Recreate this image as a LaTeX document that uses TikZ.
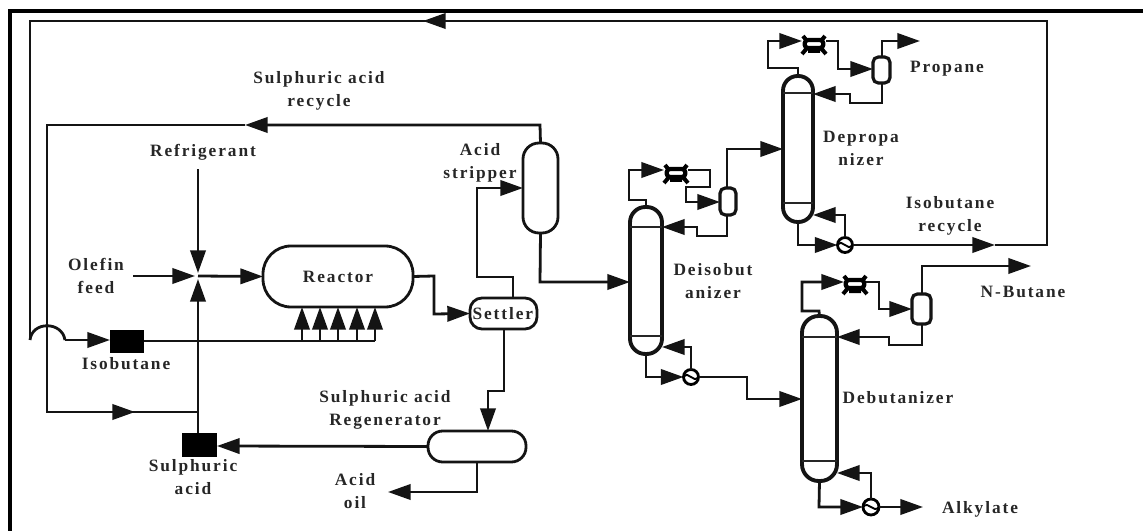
\documentclass[tikz,border=0pt]{standalone}
\usepackage{fontspec}
\setmainfont[LetterSpace=11]{Liberation Serif}
\usetikzlibrary{arrows.meta}
\tikzset{
  x=0.75pt,y=-0.75pt,
  line/.style={line width=2.1pt,black!92,line join=miter},
  arr/.style={line,-{Triangle[length=17pt,width=11.5pt]}},
  frameline/.style={line width=2.9pt,black},
  vessel/.style={draw,line width=2.1pt,black!92,fill=white,shape=rectangle,inner sep=0pt,outer sep=0pt,text=black!85,font=\bfseries\fontsize{13}{17.25}\selectfont},
  column/.style={vessel,line width=2.9pt},
  tray/.style={line width=1.6pt,black!85},
  blockbox/.style={fill=black,draw=none,shape=rectangle,inner sep=0pt,outer sep=0pt},
  lab/.style={inner sep=0pt,align=center,text=black!85,font=\bfseries\fontsize{13}{17.25}\selectfont},
  pumpbody/.style={draw,line width=3.2pt,black,fill=white,rounded corners=2.5pt,shape=rectangle,inner sep=0pt,outer sep=0pt,minimum width=14pt,minimum height=6pt},
  pumpleg/.style={line width=3pt,black},
  exch/.style={draw,line width=2.1pt,black,fill=white,shape=circle,inner sep=0pt,outer sep=0pt}
}
% name, x0, y0, x1, y1, style options, text
\newcommand{\vsl}[7]{\node[#6,minimum width={(#4-#2)*0.75pt},minimum height={(#5-#3)*0.75pt}] (#1) at ({(#2+#4)/2},{(#3+#5)/2}) {#7};}
% name, x, y
\newcommand{\pumpsym}[3]{%
  \draw[pumpleg] (#2-11,#3-8) -- (#2-7,#3-3) (#2+11,#3-8) -- (#2+7,#3-3) (#2-12,#3+10) -- (#2-6,#3+3) (#2+12,#3+10) -- (#2+6,#3+3) (#2-6,#3+7) -- (#2+6,#3+7);
  \node[pumpbody] (#1) at (#2,#3) {};}
% name, x, y, diameter
\newcommand{\exchsym}[4]{%
  \node[exch,minimum size={#4*0.75pt}] (#1) at (#2,#3) {};
  \draw[line width=1.4pt,black] (#1.west) .. controls (#2-2,#3-7) and (#2+2,#3+7) .. (#1.east);}
\begin{document}
\begin{tikzpicture}
\useasboundingbox (0,0) rectangle (1143,531);
\clip (0,0) rectangle (1143,531);
\fill[white] (0,0) rectangle (1143,531);

% frame
\coordinate (fa) at (10,531); \coordinate (fb) at (10,11); \coordinate (fc) at (1143,11);
\draw[frameline] (fa) -- (fb) -- (fc);

% equipment
\vsl{reactor}{263}{246}{413}{307}{vessel,rounded corners=21pt}{Reactor}
\vsl{settler}{470}{298}{537}{329}{vessel,rounded corners=9pt}{\hspace{-1pt}Settler}
\vsl{stripper}{523}{143}{558}{233}{vessel,rounded corners=12pt}{}
\vsl{regen}{428}{431}{526}{462}{vessel,rounded corners=11pt}{}
\vsl{isobox}{110}{330}{144}{353}{blockbox}{}
\vsl{acidbox}{182}{433}{217}{457}{blockbox}{}
\vsl{dei}{630}{207}{662}{354}{column,rounded corners=11.5pt}{}
\vsl{dep}{783}{76}{813}{222}{column,rounded corners=11pt}{}
\vsl{deb}{802}{316}{837}{481}{column,rounded corners=12.5pt}{}
\vsl{drumA}{720}{188}{736}{215}{column,rounded corners=4pt,line width=2.4pt}{}
\vsl{drumB}{873}{57}{890}{83}{column,rounded corners=4pt,line width=2.4pt}{}
\vsl{drumC}{912}{294}{931}{324}{column,rounded corners=4pt,line width=2.4pt}{}

% tray lines
\draw[tray] (dei.west |- 0,227) -- (dei.east |- 0,227) (dei.west |- 0,336) -- (dei.east |- 0,336);
\draw[tray] (dep.west |- 0,93) -- (dep.east |- 0,93) (dep.west |- 0,203) -- (dep.east |- 0,203);
\draw[tray] (deb.west |- 0,337) -- (deb.east |- 0,337) (deb.west |- 0,461) -- (deb.east |- 0,461);

% pumps and exchangers
\pumpsym{pumpA}{676}{173}
\pumpsym{pumpB}{814}{44}
\pumpsym{pumpC}{855}{284}
\exchsym{rebA}{691}{377}{15}
\exchsym{rebB}{845}{245}{15}
\exchsym{rebC}{871}{507}{16}

% mixer
\coordinate (mix) at (198,276);

% labels
\node[lab] (tSul) at (319,91) {Sulphuric acid\\recycle};
\node[lab] (tRef) at (203,152) {Refrigerant};
\node[lab] (tAci) at (480,163) {Acid\\stripper};
\node[lab] (tOle) at (96,276) {Olefin\\feed};
\node[lab] (tIso) at (126,364) {Isobutane};
\node[lab] (tReg) at (385,410) {Sulphuric acid\\Regenerator};
\node[lab] (tSua) at (193,477) {Sulphuric\\acid};
\node[lab] (tOil) at (355,491) {Acid\\oil};
\node[lab] (tDep) at (861,148) {Depropa\\nizer};
\node[lab] (tPro) at (947,69) {Propane};
\node[lab] (tRec) at (950,216) {Isobutane\\recycle};
\node[lab] (tDeis) at (713,281) {Deisobut\\anizer};
\node[lab] (tNbu) at (1023,292) {N-Butane};
\node[lab] (tDeb) at (898,398) {Debutanizer};
\node[lab] (tAlk) at (980,509) {Alkylate};

% isobutane recycle loop
\coordinate (r1) at (995,245); \coordinate (r2) at (1047,245); \coordinate (r3) at (1047,21);
\coordinate (r4) at (423,21); \coordinate (r5) at (30,21); \coordinate (r6) at (30,340);
\coordinate (r7) at (65,340);
\draw[arr] (rebB.east) -- (r1);
\draw[line] (r1) -- (r2) -- (r3) -- (r4);
\draw[arr] (r3) -- (r4);
\draw[line] (r4) -- (r5) -- (r6);

% acid recycle loop
\coordinate (s1) at (540,125); \coordinate (s2) at (245,125); \coordinate (s3) at (47,125);
\coordinate (s4) at (47,412); \coordinate (s5) at (135,412); \coordinate (s6) at (198,412);
\draw[arr] (stripper.north) -- (s1) -- (s2);
\draw[line] (s2) -- (s3) -- (s4) -- (s5);
\draw[arr] (s4) -- (s5);
\draw[line] (s5) -- (s6);

% hop and isobutane feed
\draw[line] (r6) .. controls (32,321) and (62,321) .. (r7);
\draw[arr] (r7) -- (isobox.west |- r7);

% header and risers
\coordinate (h0) at (375,341);
\draw[line] (isobox.east |- h0) -- (h0);
\foreach \xx/\nn in {302/a,320/b,338/c,357/d,375/e}{
  \coordinate (rs\nn) at (\xx,341);
  \draw[arr] (rs\nn) -- (rs\nn |- reactor.south);
}

% mixer connections
\coordinate (fr) at (198,170); \coordinate (fo) at (133,276);
\coordinate (fot) at (195,276); \coordinate (frt) at (198,273); \coordinate (fut) at (198,279);
\draw[arr] (tRef.south -| fr) ++(0,9) -- (frt);
\draw[arr] (fo) -- (fot);
\draw[arr] (mix) -- (reactor.west);
\draw[arr] (acidbox.north -| mix) -- (fut);

% reactor to settler etc.
\coordinate (a1) at (434,276); \coordinate (a2) at (434,314);
\draw[arr] (reactor.east) -- (a1) -- (a2) -- (settler.west);
\coordinate (b1) at (513,277); \coordinate (b2) at (477,277); \coordinate (b3) at (477,188);
\draw[arr] (settler.north -| b1) -- (b1) -- (b2) -- (b3) -- (b3 -| stripper.west);
\coordinate (c1) at (504,391); \coordinate (c2) at (488,391);
\draw[arr] (settler.south -| c1) -- (c1) -- (c2) -- (c2 |- regen.north);
\coordinate (d1) at (428,446);
\draw[arr] (regen.west) -- (acidbox.east |- d1);
\coordinate (e1) at (477,492); \coordinate (e2) at (388,492);
\draw[arr] (regen.south -| e1) -- (e1) -- (e2);
\coordinate (g1) at (540,282);
\draw[arr] (stripper.south) -- (g1) -- (g1 -| dei.west);

% deisobutanizer overhead
\coordinate (h1) at (646,200); \coordinate (h2) at (629,200); \coordinate (h3) at (629,170);
\draw[arr] (dei.north) -- (h1) -- (h2) -- (h3) -- (664,170);
\coordinate (h4) at (710,170); \coordinate (h5) at (710,187); \coordinate (h6) at (686,187); \coordinate (h7) at (686,202);
\draw[arr] (688,170) -- (h4) -- (h5) -- (h6) -- (h7) -- (h7 -| drumA.west);
\coordinate (i1) at (727,149);
\draw[arr] (drumA.north -| i1) -- (i1) -- (i1 -| dep.west);
\coordinate (i2) at (727,236); \coordinate (i3) at (697,236); \coordinate (i4) at (697,227);
\draw[arr] (drumA.south -| i2) -- (i2) -- (i3) -- (i4) -- (i4 -| dei.east);

% deisobutanizer bottoms
\coordinate (j1) at (646,377);
\draw[arr] (dei.south) -- (j1) -- (rebA.west);
\coordinate (j2) at (691,347);
\draw[arr] (rebA.north) -- (j2) -- (j2 -| dei.east);
\coordinate (j3) at (747,377); \coordinate (j4) at (747,399);
\draw[arr] (rebA.east) -- (j3) -- (j4) -- (j4 -| deb.west);

% depropanizer overhead
\coordinate (k1) at (798,68); \coordinate (k2) at (768,68); \coordinate (k3) at (768,41);
\draw[arr] (dep.north) -- (k1) -- (k2) -- (k3) -- (802,41);
\coordinate (k4) at (838,41); \coordinate (k5) at (838,69);
\draw[arr] (826,41) -- (k4) -- (k5) -- (k5 -| drumB.west);
\coordinate (l1) at (882,41); \coordinate (l2) at (920,41);
\draw[arr] (drumB.north -| l1) -- (l1) -- (l2);
\coordinate (l3) at (882,103); \coordinate (l4) at (850,103); \coordinate (l5) at (850,94);
\draw[arr] (drumB.south -| l3) -- (l3) -- (l4) -- (l5) -- (l5 -| dep.east);

% depropanizer bottoms
\coordinate (m1) at (798,245);
\draw[arr] (dep.south) -- (m1) -- (rebB.west);
\coordinate (m2) at (845,215);
\draw[arr] (rebB.north) -- (m2) -- (m2 -| dep.east);

% debutanizer overhead
\coordinate (n1) at (819,311); \coordinate (n2) at (802,311); \coordinate (n3) at (802,282);
\draw[arr] (deb.north) -- (n1) -- (n2) -- (n3) -- (844,282);
\coordinate (n4) at (879,282); \coordinate (n5) at (879,309);
\draw[arr] (866,282) -- (n4) -- (n5) -- (n5 -| drumC.west);
\coordinate (o1) at (922,266); \coordinate (o2) at (1031,266);
\draw[arr] (drumC.north -| o1) -- (o1) -- (o2);
\coordinate (o3) at (922,345); \coordinate (o4) at (889,345); \coordinate (o5) at (889,337);
\draw[arr] (drumC.south -| o3) -- (o3) -- (o4) -- (o5) -- (o5 -| deb.east);

% debutanizer bottoms
\coordinate (q1) at (819,507);
\draw[arr] (deb.south) -- (q1) -- (rebC.west);
\coordinate (q2) at (871,473);
\draw[arr] (rebC.north) -- (q2) -- (q2 -| deb.east);
\coordinate (q3) at (923,507);
\draw[arr] (rebC.east) -- (q3);
\end{tikzpicture}
\end{document}
